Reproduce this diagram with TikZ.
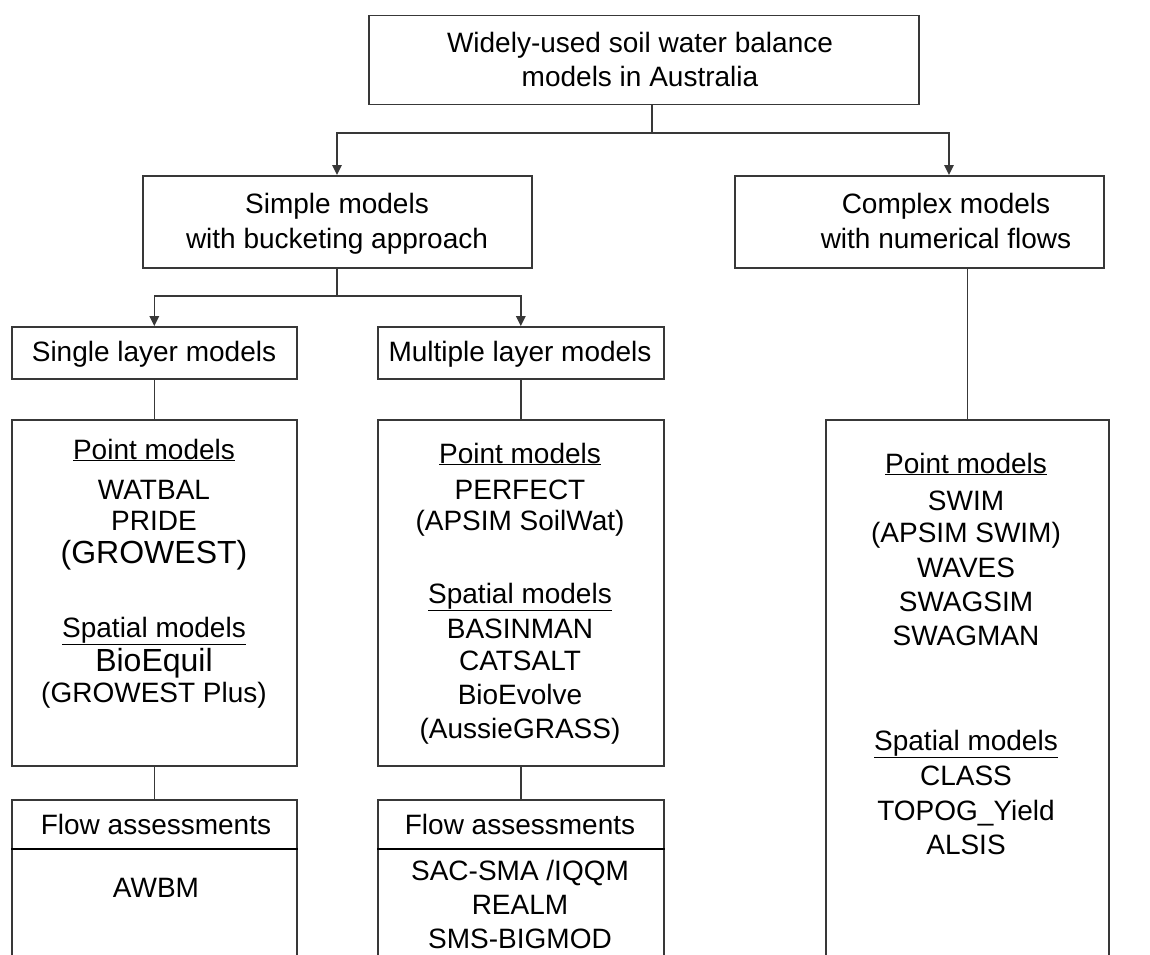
\documentclass[tikz,border=0pt]{standalone}
\usepackage{fontspec}
\setmainfont{Liberation Sans}
\usetikzlibrary{arrows.meta,calc}
\begin{document}
\begin{tikzpicture}[x=1pt,y=-1pt,
  box/.style={draw=black!78, line width=1.6pt, fill=white, inner sep=0pt, anchor=north west},
  lnk/.style={draw=black!78, line width=1.6pt},
  arr/.style={lnk, -{Triangle[width=9.5pt,length=10pt]}},
  txt/.style={anchor=base, inner sep=0pt, font=\fontsize{28}{34}\selectfont},
  bigtxt/.style={anchor=base, inner sep=0pt, font=\fontsize{32}{38}\selectfont},
  sepline/.style={draw=black, line width=2pt}]
\path[use as bounding box] (0,0) rectangle (1150,954);
\fill[white] (0,0) rectangle (1150,954);
\begin{scope}
\clip (0,0) rectangle (1150,954);
% boxes
\node[box, minimum width=550pt, minimum height=89pt] (top) at (368,14.5) {};
\node[box, minimum width=389pt, minimum height=92pt] (simple) at (142,175) {};
\node[box, minimum width=369pt, minimum height=92pt] (complex) at (734,175) {};
\node[box, minimum width=285pt, minimum height=52pt] (single) at (11,326) {};
\node[box, minimum width=286pt, minimum height=52pt] (multi) at (377,326) {};
\node[box, minimum width=285pt, minimum height=346pt] (pointS) at (11,419) {};
\node[box, minimum width=286pt, minimum height=346pt] (pointM) at (377,419) {};
\node[box, minimum width=283pt, minimum height=600pt] (pointC) at (825,419) {};
\node[box, minimum width=285pt, minimum height=220pt] (flowS) at (11,799) {};
\node[box, minimum width=286pt, minimum height=220pt] (flowM) at (377,799) {};
% junctions
\coordinate (tj) at (652,133);
\coordinate (ca) at (949,0);
\coordinate (sj) at (337,296);
\coordinate (sepS) at (0,849);
% connectors
\draw[lnk] (top.south -| tj) -- (tj);
\draw[arr] (tj) -| (simple.north -| sj);
\draw[arr] (tj) -| (complex.north -| ca);
\draw[lnk] (simple.south -| sj) -- (sj);
\draw[arr] (sj) -| (single.north);
\draw[arr] (sj) -| (multi.north);
\draw[lnk] (single.south) -- (pointS.north);
\draw[lnk] (multi.south) -- (pointM.north);
\draw[lnk] (complex.south -| pointC.north) -- (pointC.north);
\draw[lnk] (pointS.south) -- (flowS.north);
\draw[lnk] (pointM.south) -- (flowM.north);
\draw[sepline] (flowS.west |- sepS) -- (flowS.east |- sepS);
\draw[sepline] (flowM.west |- sepS) -- (flowM.east |- sepS);
% texts
\node[txt] (t1) at (640,52) {Widely-used soil water balance};
\node[txt] (t2) at (640,86) {models in Australia};
\node[txt] (t3) at (337,213) {Simple models};
\node[txt] (t4) at (337,248) {with bucketing approach};
\node[txt] (t5) at (946,213) {Complex models};
\node[txt] (t6) at (946,248) {with numerical flows};
\node[txt] (t7) at (154,361) {Single layer models};
\node[txt] (t8) at (520,361) {Multiple layer models};
% single point box
\node[txt] (s1) at (154,459) {\underline{Point models}};
\node[txt] (s2) at (154,499) {WATBAL};
\node[txt] (s3) at (154,530) {PRIDE};
\node[bigtxt] (s4) at (154,563) {(GROWEST)};
\node[txt] (s5) at (154,637) {\underline{Spatial models}};
\node[bigtxt] (s6) at (154,671) {BioEquil};
\node[txt] (s7) at (154,702) {(GROWEST Plus)};
% multi point box
\node[txt] (m1) at (520,463) {\underline{Point models}};
\node[txt] (m2) at (520,499) {PERFECT};
\node[txt] (m3) at (520,530) {(APSIM SoilWat)};
\node[txt] (m4) at (520,603) {\underline{Spatial models}};
\node[txt] (m5) at (520,638) {BASINMAN};
\node[txt] (m6) at (520,670) {CATSALT};
\node[txt] (m7) at (520,704) {BioEvolve};
\node[txt] (m8) at (520,738) {(AussieGRASS)};
% complex box
\node[txt] (c1) at (966,473) {\underline{Point models}};
\node[txt] (c2) at (966,510) {SWIM};
\node[txt] (c3) at (966,542) {(APSIM SWIM)};
\node[txt] (c4) at (966,577) {WAVES};
\node[txt] (c5) at (966,611) {SWAGSIM};
\node[txt] (c6) at (966,645) {SWAGMAN};
\node[txt] (c7) at (966,750) {\underline{Spatial models}};
\node[txt] (c8) at (966,785) {CLASS};
\node[txt] (c9) at (966,820) {TOPOG\_Yield};
\node[txt] (c10) at (966,854) {ALSIS};
% flow boxes
\node[txt] (f1) at (156,834) {Flow assessments};
\node[txt] (f2) at (156,897) {AWBM};
\node[txt] (f3) at (520,834) {Flow assessments};
\node[txt] (f4) at (520,880) {SAC-SMA /IQQM};
\node[txt] (f5) at (520,914) {REALM};
\node[txt] (f6) at (520,948) {SMS-BIGMOD};
\end{scope}
\end{tikzpicture}
\end{document}
